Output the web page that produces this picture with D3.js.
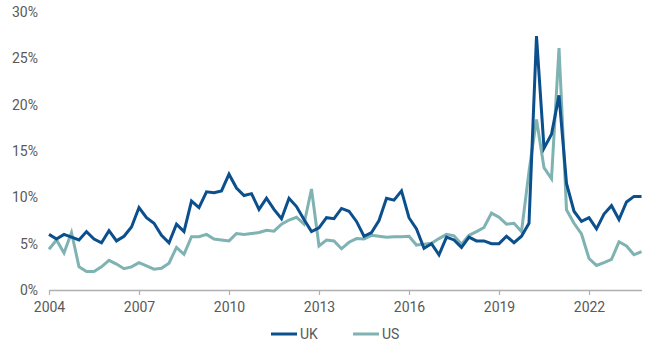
<!DOCTYPE html>
<html>
<head>
<meta charset="utf-8">
<script src="https://cdn.jsdelivr.net/npm/d3@7"></script>
<style>
  html, body { margin: 0; padding: 0; background: #fff; }
  svg { display: block; }
  text { font-family: Roboto, "Liberation Sans", Arial, sans-serif; }
</style>
</head>
<body>
<svg id="chart" width="650" height="350"></svg>
<script>
// Quarterly categories 2004 Q1 – 2023 Q4
const years = [2004,2005,2006,2007,2008,2009,2010,2011,2012,2013,2014,2015,2016,2017,2018,2019,2020,2021,2022,2023];
const quarters = [0, 1, 2, 3];
const tickYears = [2004, 2007, 2010, 2013, 2016, 2019, 2022];
const yTicks = [0, 5, 10, 15, 20, 25, 30];
const seriesNames = ["UK", "US"];

const ukValues = [
  6.0, 5.5, 6.0, 5.7, 5.4, 6.3, 5.5, 5.1, 6.4, 5.3, 5.8, 6.8,
  8.9, 7.8, 7.2, 5.9, 5.1, 7.1, 6.3, 9.6, 8.9, 10.6, 10.5, 10.7,
  12.5, 11.0, 10.2, 10.4, 8.7, 9.9, 8.7, 7.7, 9.9, 9.0, 7.6, 6.3,
  6.7, 7.8, 7.7, 8.8, 8.5, 7.4, 5.8, 6.2, 7.5, 9.9, 9.7, 10.7,
  7.8, 6.6, 4.5, 5.0, 3.8, 5.7, 5.4, 4.6, 5.7, 5.3, 5.3, 5.0,
  5.0, 5.8, 5.1, 5.8, 7.2, 27.4, 15.3, 16.8, 21.0, 11.5, 8.5, 7.4,
  7.8, 6.6, 8.2, 9.1, 7.6, 9.5, 10.1, 10.1
];
const usValues = [
  4.4, 5.4, 4.0, 6.2, 2.5, 2.0, 2.0, 2.5, 3.2, 2.8, 2.3, 2.5,
  2.95, 2.6, 2.25, 2.35, 2.9, 4.6, 3.85, 5.75, 5.75, 6.0, 5.5, 5.4,
  5.3, 6.1, 6.0, 6.1, 6.2, 6.45, 6.35, 7.1, 7.55, 7.85, 7.1, 10.9,
  4.75, 5.4, 5.3, 4.45, 5.15, 5.55, 5.5, 5.9, 5.8, 5.7, 5.75, 5.75,
  5.8, 4.85, 4.95, 5.05, 5.55, 6.0, 5.85, 4.95, 5.9, 6.3, 6.75, 8.3,
  7.85, 7.1, 7.2, 6.3, 12.8, 18.4, 13.2, 12.0, 26.1, 8.65, 7.2, 6.05,
  3.4, 2.65, 2.95, 3.3, 5.2, 4.75, 3.8, 4.15
];

const colors = { UK: "#0b4f8c", US: "#7fb2b2" };

const periods = [];
years.forEach(y => quarters.forEach(q => periods.push(y + q / 4)));

const svg = d3.select("#chart");
const x = d3.scaleLinear().domain([periods[0], periods[periods.length - 1]]).range([49, 641.5]);
const y = d3.scaleLinear().domain([0, 30]).range([290, 12]);

// Y axis labels (no axis line)
const yAxis = d3.axisLeft(y).tickValues(yTicks).tickFormat(d => d + "%").tickSize(0).tickPadding(0);
const gy = svg.append("g").attr("transform", "translate(38,0)").call(yAxis);
gy.select(".domain").remove();
gy.selectAll("text").attr("font-size", 14).attr("fill", "#595959").attr("font-family", "Roboto, 'Liberation Sans', Arial, sans-serif");

// X axis
const xAxis = d3.axisBottom(x).tickValues(tickYears).tickFormat(d3.format("d")).tickSize(5).tickSizeOuter(0).tickPadding(7);
const gx = svg.append("g").attr("transform", "translate(0,290)").call(xAxis);
gx.select(".domain").attr("stroke", "#b0b0b0").attr("stroke-width", 1.5);
gx.selectAll(".tick line").attr("stroke", "#b0b0b0").attr("stroke-width", 1.2);
gx.selectAll("text").attr("font-size", 14).attr("fill", "#595959").attr("font-family", "Roboto, 'Liberation Sans', Arial, sans-serif");

// Lines
const line = d3.line().x((d, i) => x(periods[i])).y(d => y(d));
const seriesData = { UK: ukValues, US: usValues };
["US", "UK"].forEach(name => {
  svg.append("path")
    .datum(seriesData[name])
    .attr("fill", "none")
    .attr("stroke", colors[name])
    .attr("stroke-width", 3)
    .attr("stroke-linejoin", "miter")
    .attr("d", line);
});

// Legend
const legendItems = [{ name: "UK", x: 271 }, { name: "US", x: 353 }];
const lg = svg.append("g");
legendItems.forEach(it => {
  lg.append("line")
    .attr("x1", it.x).attr("x2", it.x + 26)
    .attr("y1", 334).attr("y2", 334)
    .attr("stroke", colors[it.name]).attr("stroke-width", 3);
  lg.append("text")
    .attr("x", it.x + 29).attr("y", 334).attr("dy", "0.35em")
    .attr("font-size", 14).attr("fill", "#595959")
    .text(it.name);
});
</script>
</body>
</html>
